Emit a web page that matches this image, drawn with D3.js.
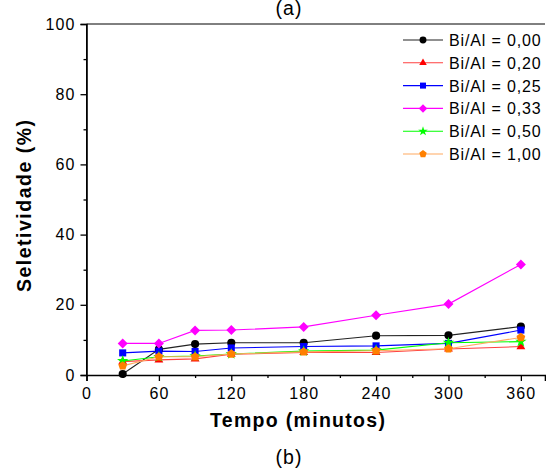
<!DOCTYPE html>
<html>
<head>
<meta charset="utf-8">
<script src="https://cdn.jsdelivr.net/npm/d3@7"></script>
<style>
	body { margin: 0; background: #fff; }
	text { font-family: "Liberation Sans", Arial, sans-serif; }
</style>
</head>
<body>
<script>
// chart values
var tempo = [30, 60, 90, 120, 180, 240, 300, 360];
var labels = ['Bi/Al = 0,00', 'Bi/Al = 0,20', 'Bi/Al = 0,25', 'Bi/Al = 0,33', 'Bi/Al = 0,50', 'Bi/Al = 1,00'];
var bi000 = [0.3, 7.3, 8.8, 9.2, 9.2, 11.2, 11.3, 13.8];
var bi020 = [3.8, 4.3, 4.6, 5.9, 6.4, 6.4, 7.4, 8.1];
var bi025 = [6.3, 6.8, 6.7, 7.7, 8.1, 8.3, 9.0, 12.8];
var bi033 = [9.0, 9.0, 12.7, 12.8, 13.7, 17.0, 20.2, 31.5];
var bi050 = [4.0, 5.2, 5.4, 6.0, 6.8, 7.1, 9.2, 9.5];
var bi100 = [2.6, 5.2, 5.2, 6.0, 6.6, 6.9, 7.5, 10.7];
var xTicks = [0, 60, 120, 180, 240, 300, 360];
var yTicks = [0, 20, 40, 60, 80, 100];

var series = [
	{ name: labels[0], values: bi000, line: '#222222', fill: '#000000', symbol: 'circle' },
	{ name: labels[1], values: bi020, line: '#ff4040', fill: '#ff0000', symbol: 'triangle' },
	{ name: labels[2], values: bi025, line: '#0000ff', fill: '#0000ff', symbol: 'square' },
	{ name: labels[3], values: bi033, line: '#ff00ff', fill: '#ff00ff', symbol: 'diamond' },
	{ name: labels[4], values: bi050, line: '#00ff00', fill: '#00ff00', symbol: 'star' },
	{ name: labels[5], values: bi100, line: '#ffaa60', fill: '#ff8000', symbol: 'pentagon' }
];

var width = 546, height = 469;
var margin = { top: 24, right: 1, bottom: 94, left: 86.5 };

var svg = d3.select('body').append('svg')
	.attr('width', width)
	.attr('height', height);

var x = d3.scaleLinear().domain([0, 380]).range([margin.left, width - margin.right]);
var y = d3.scaleLinear().domain([0, 100]).range([height - margin.bottom, margin.top]);

// pentagon path
function pentagon(r) {
	var pts = d3.range(5).map(function(i) {
		var a = -Math.PI / 2 + i * 2 * Math.PI / 5;
		return [r * Math.cos(a), r * Math.sin(a)];
	});
	return 'M' + pts.join('L') + 'Z';
}
function markerPath(s) {
	switch (s.symbol) {
		case 'circle': return d3.symbol().type(d3.symbolCircle).size(52)();
		case 'triangle': return d3.symbol().type(d3.symbolTriangle).size(34)();
		case 'square': return d3.symbol().type(d3.symbolSquare).size(50)();
		case 'diamond': return 'M0,-5L5,0L0,5L-5,0Z';
		case 'star': return d3.symbol().type(d3.symbolStar).size(40)();
		default: return pentagon(4.6);
	}
}

// frame
svg.append('path')
	.attr('d', 'M' + x(0) + ',' + y(0) + 'V' + y(100) + 'H' + (width - margin.right))
	.attr('fill', 'none')
	.attr('stroke', '#000')
	.attr('stroke-width', 1);

// axes
svg.append('g')
	.attr('transform', 'translate(0,' + y(0) + ')')
	.call(d3.axisBottom(x).tickValues(xTicks).tickSize(6).tickPadding(7));
svg.append('g')
	.attr('transform', 'translate(0,' + y(0) + ')')
	.call(d3.axisBottom(x).tickValues([30, 90, 150, 210, 270, 330]).tickSize(3).tickFormat(''))
	.select('.domain').remove();

svg.append('g')
	.attr('transform', 'translate(' + x(0) + ',0)')
	.call(d3.axisLeft(y).tickValues(yTicks).tickSize(6).tickPadding(5));
svg.append('g')
	.attr('transform', 'translate(' + x(0) + ',0)')
	.call(d3.axisLeft(y).tickValues([10, 30, 50, 70, 90]).tickSize(3).tickFormat(''))
	.select('.domain').remove();

svg.selectAll('.domain').attr('stroke-width', 1.6);
svg.selectAll('.tick line').attr('stroke-width', 1.3);
svg.selectAll('.tick text')
	.attr('font-size', 16)
	.attr('fill', '#000')
	.attr('letter-spacing', 1.1)
	.style('font-family', '"Liberation Sans", Arial, sans-serif');

// lines and markers
var line = d3.line()
	.x(function(d, i) { return x(tempo[i]); })
	.y(function(d) { return y(d); });

series.forEach(function(s) {
	svg.append('path')
		.datum(s.values)
		.attr('d', line)
		.attr('fill', 'none')
		.attr('stroke', s.line)
		.attr('stroke-width', 1.1);
});
series.forEach(function(s) {
	svg.append('g').selectAll('path')
		.data(s.values)
		.enter().append('path')
		.attr('transform', function(d, i) { return 'translate(' + x(tempo[i]) + ',' + y(d) + ')'; })
		.attr('d', markerPath(s))
		.attr('fill', s.fill);
});

// legend
var legend = svg.append('g').selectAll('g')
	.data(series)
	.enter().append('g')
	.attr('transform', function(d, i) { return 'translate(0,' + (40 + i * 22.8) + ')'; });
legend.append('line')
	.attr('x1', 403).attr('x2', 443)
	.attr('stroke', function(d) { return d.line; })
	.attr('stroke-width', 1.1);
legend.append('path')
	.attr('transform', 'translate(423,0) scale(0.85)')
	.attr('d', function(d) { return markerPath(d); })
	.attr('fill', function(d) { return d.fill; });
legend.append('text')
	.attr('x', 449)
	.attr('y', 6)
	.attr('font-size', 16)
	.attr('letter-spacing', 0.85)
	.text(function(d) { return d.name; });

// titles
svg.append('text')
	.attr('x', 297.5)
	.attr('y', 427)
	.attr('text-anchor', 'middle')
	.attr('font-size', 19.5)
	.attr('font-weight', 'bold')
	.attr('textLength', 175)
	.attr('lengthAdjust', 'spacing')
	.text('Tempo (minutos)');

svg.append('text')
	.attr('transform', 'translate(31,206) rotate(-90)')
	.attr('text-anchor', 'middle')
	.attr('font-size', 19.5)
	.attr('font-weight', 'bold')
	.attr('textLength', 172)
	.attr('lengthAdjust', 'spacing')
	.text('Seletividade (%)');

svg.append('text')
	.attr('x', 289)
	.attr('y', 464)
	.attr('text-anchor', 'middle')
	.attr('font-size', 19.5)
	.attr('letter-spacing', 1)
	.text('(b)');

svg.append('text')
	.attr('x', 289)
	.attr('y', 15)
	.attr('text-anchor', 'middle')
	.attr('font-size', 19.5)
	.attr('letter-spacing', 1)
	.text('(a)');
</script>
</body>
</html>
